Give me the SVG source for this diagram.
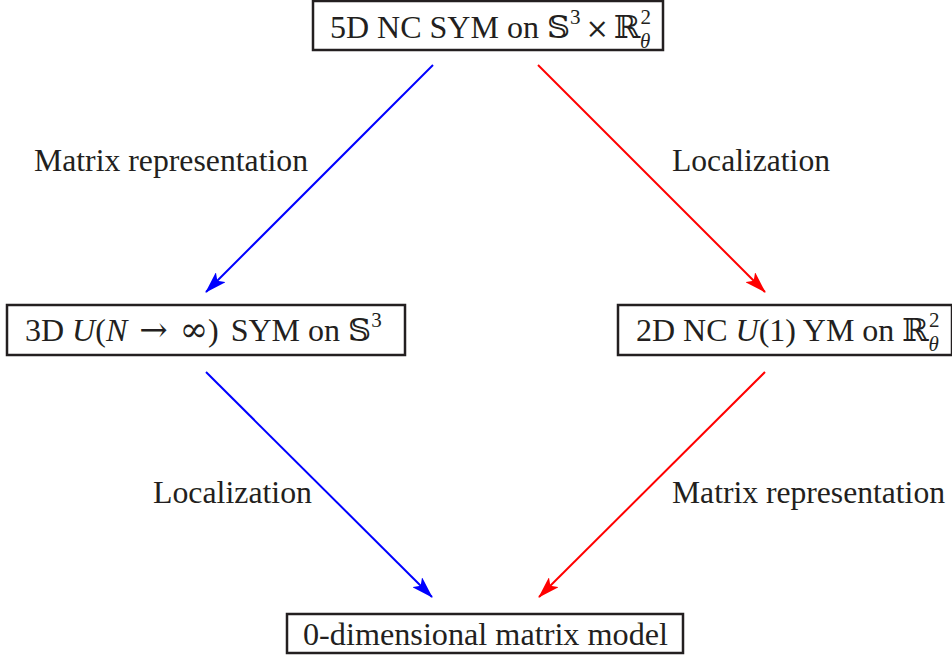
<svg xmlns="http://www.w3.org/2000/svg" width="952" height="655" viewBox="0 0 952 655">
<style>
.box{fill:#fff;stroke:#231f20;stroke-width:2.5}
.t{font-family:"Liberation Serif","DejaVu Serif",serif;font-size:32px;fill:#231f20}
.lbl{font-family:"Liberation Serif","DejaVu Serif",serif;font-size:32px;fill:#231f20}
.it{font-style:italic}
.ds{font-family:"DejaVu Serif","DejaVu Sans",serif}
.sy{font-family:"DejaVu Serif","DejaVu Sans",serif;font-size:28px}
.sy2{font-family:"DejaVu Serif","DejaVu Sans",serif;font-size:34px}
.sup{font-size:21px}
.blue{stroke:#0000ff;stroke-width:2;fill:none}
.red{stroke:#ff0000;stroke-width:2;fill:none}
</style>
<defs>
<marker id="ab" viewBox="0 0 22 14" refX="21" refY="7" markerWidth="22" markerHeight="14" markerUnits="userSpaceOnUse" orient="auto">
<path d="M0,0 L22,7 L0,14 L5,7 Z" fill="#0000ff"/>
</marker>
<marker id="ar" viewBox="0 0 22 14" refX="21" refY="7" markerWidth="22" markerHeight="14" markerUnits="userSpaceOnUse" orient="auto">
<path d="M0,0 L22,7 L0,14 L5,7 Z" fill="#ff0000"/>
</marker>
</defs>
<g id="connectors">
<line class="blue" x1="433" y1="65" x2="206" y2="292" marker-end="url(#ab)"/>
<line class="red" x1="538" y1="65" x2="765" y2="292" marker-end="url(#ar)"/>
<line class="blue" x1="206" y1="372" x2="432" y2="597" marker-end="url(#ab)"/>
<line class="red" x1="765" y1="372" x2="539" y2="597" marker-end="url(#ar)"/>
<text class="lbl" x="34" y="171" textLength="274" lengthAdjust="spacingAndGlyphs">Matrix representation</text>
<text class="lbl" x="672" y="171" textLength="158" lengthAdjust="spacingAndGlyphs">Localization</text>
<text class="lbl" x="153" y="503" textLength="159" lengthAdjust="spacingAndGlyphs">Localization</text>
<text class="lbl" x="672" y="503" textLength="273" lengthAdjust="spacingAndGlyphs">Matrix representation</text>
</g>
<g id="n5d">
<rect class="box" x="313" y="1" width="350" height="49"/>
<text class="t" x="330" y="38">5D NC SYM on <tspan class="ds">𝕊</tspan><tspan class="sup" dy="-14">3</tspan><tspan class="sy" dx="5" dy="14">×</tspan><tspan class="ds" dx="5">ℝ</tspan><tspan class="sup" dy="-14">2</tspan><tspan class="sup it" dx="-11" dy="24">θ</tspan></text>
</g>
<g id="n3d">
<rect class="box" x="7" y="305" width="398" height="50"/>
<text class="t" x="25" y="341">3D <tspan class="it">U</tspan>(<tspan class="it">N</tspan><tspan class="sy2" dx="12">→</tspan><tspan class="sy2" dx="12">∞</tspan>)<tspan dx="4"> SYM on </tspan><tspan class="ds">𝕊</tspan><tspan class="sup" dy="-14">3</tspan></text>
</g>
<g id="n2d">
<rect class="box" x="618" y="305" width="334" height="50"/>
<text class="t" x="636" y="341">2D NC <tspan class="it">U</tspan>(1) YM on <tspan class="ds">ℝ</tspan><tspan class="sup" dy="-14">2</tspan><tspan class="sup it" dx="-11" dy="24">θ</tspan></text>
</g>
<g id="n0d">
<rect class="box" x="287" y="614" width="396" height="39"/>
<text class="t" x="303" y="645" textLength="365" lengthAdjust="spacingAndGlyphs">0-dimensional matrix model</text>
</g>
</svg>
